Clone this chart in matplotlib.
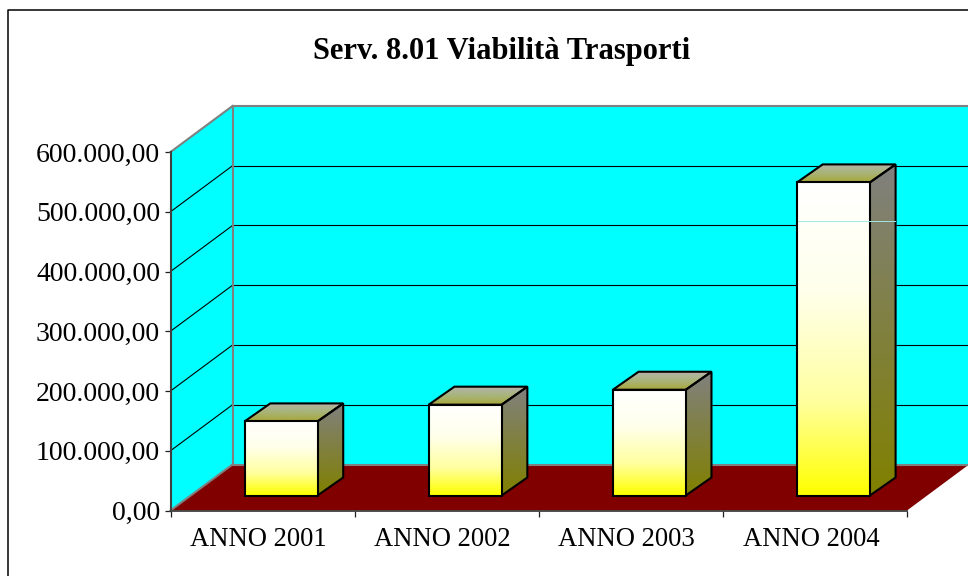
import numpy as np
import matplotlib
matplotlib.use("Agg")
import matplotlib.pyplot as plt
from matplotlib.patches import Polygon
from matplotlib.lines import Line2D
from matplotlib.transforms import Affine2D, IdentityTransform
from matplotlib.colors import LinearSegmentedColormap

categories = ["ANNO 2001", "ANNO 2002", "ANNO 2003", "ANNO 2004"]
values = [124000, 152000, 177000, 524000]
y_ticks = [0, 100000, 200000, 300000, 400000, 500000, 600000]
y_labels = ["0,00", "100.000,00", "200.000,00", "300.000,00", "400.000,00", "500.000,00", "600.000,00"]
title = "Serv. 8.01 Viabilità Trasporti"
streak_value = 459600    # faint line visible across the last bar

W, H = 968, 576
plt.rcParams["font.family"] = ["Liberation Serif", "DejaVu Serif"]
fig = plt.figure(figsize=(W / 100, H / 100), dpi=100, facecolor="white")
L, R, T, B = 170.5, 907.0, 152.0, 510.5
ax = fig.add_axes([L / W, 1 - B / H, (R - L) / W, (B - T) / H])
ax.set_xlim(0, 4)
ax.set_ylim(0, 600000)
ax.patch.set_visible(False)
for s in ax.spines.values():
    s.set_visible(False)

DX, DY = 62.0, 46.0      # wall depth, pixels
back = Affine2D().translate(DX, DY)
to_back = ax.transData + back
GRAY = "#808080"

# floor
ax.add_patch(Polygon(ax.transData.transform([(0, 0), (4, 0)]).tolist()
                     + to_back.transform([(4, 0), (0, 0)]).tolist(),
                     closed=True, fc="#800000", ec="none",
                     transform=IdentityTransform(), clip_on=False, zorder=1))
# side wall
ax.add_patch(Polygon(ax.transData.transform([(0, 0), (0, 600000)]).tolist()
                     + to_back.transform([(0, 600000), (0, 0)]).tolist(),
                     closed=True, fc="#00FFFF", ec="none",
                     transform=IdentityTransform(), clip_on=False, zorder=1))
# back wall
ax.add_patch(Polygon([(0, 0), (4, 0), (4, 600000), (0, 600000)], closed=True,
                     fc="#00FFFF", ec="none", transform=to_back, clip_on=False, zorder=1))
# grid lines
for v in y_ticks:
    c, w = ("black", 0.8)
    if v in (0, 600000):
        continue
    ax.plot([0, 4], [v, v], color=c, lw=w, transform=to_back, clip_on=False, zorder=2)
    p0 = ax.transData.transform((0, v))
    p1 = to_back.transform((0, v))
    ax.add_line(Line2D([p0[0], p1[0]], [p0[1], p1[1]], color=c, lw=w,
                       transform=IdentityTransform(), clip_on=False, zorder=2))
# wall edges
p = ax.transData.transform([(0, 0), (0, 600000)])
q = to_back.transform([(0, 0), (0, 600000), (4, 600000), (4, 0)])
for a, b in [(p[1], q[1]), (q[1], q[2]), (q[0], q[1]), (p[0], q[0]), (q[0], q[3])]:
    ax.add_line(Line2D([a[0], b[0]], [a[1], b[1]], color=GRAY, lw=1.5,
                       transform=IdentityTransform(), clip_on=False, zorder=2.5))

front_cmap = LinearSegmentedColormap.from_list(
    "f", [(0, "#FFFFFF"), (0.35, "#FFFFEC"), (0.7, "#FFFFA0"), (1, "#FFFF00")])
side_cmap = LinearSegmentedColormap.from_list("s", ["#808080", "#808000"])
top_cmap = LinearSegmentedColormap.from_list("t", ["#B4B4AA", "#A8B478", "#A8A838"])
grad = np.linspace(0, 1, 256).reshape(-1, 1)

BW = 0.396
FX, FY = 18.5, 15.0      # front offset of the bars
BX, BY = 25.7, 18.0      # bar depth


def face(pts, cmap, z):
    pts = np.array(pts)
    x0, x1 = pts[:, 0].min(), pts[:, 0].max()
    y0, y1 = pts[:, 1].min(), pts[:, 1].max()
    im = ax.imshow(grad, cmap=cmap, aspect="auto", extent=(x0, x1, y0, y1), origin="upper",
                   transform=IdentityTransform(), zorder=z, clip_on=True, interpolation="bilinear")
    clip = Polygon(pts, closed=True, transform=IdentityTransform())
    im.set_clip_path(clip)
    ax.add_patch(Polygon(pts, closed=True, fc="none", ec="black", lw=1.5, joinstyle="miter",
                         transform=IdentityTransform(), clip_on=False, zorder=z + 0.1))


for i, v in enumerate(values):
    xl, xr = i + 0.5 - BW / 2, i + 0.5 + BW / 2
    (ax0, ay0), (ax1, ay1) = ax.transData.transform([(xl, 0), (xr, v)])
    ax0 += FX; ax1 += FX; ay0 += FY; ay1 += FY
    face([(ax1, ay0), (ax1 + BX, ay0 + BY), (ax1 + BX, ay1 + BY), (ax1, ay1)], side_cmap, 4)
    face([(ax0, ay1), (ax1, ay1), (ax1 + BX, ay1 + BY), (ax0 + BX, ay1 + BY)], top_cmap, 4)
    face([(ax0, ay0), (ax1, ay0), (ax1, ay1), (ax0, ay1)], front_cmap, 5)
    if i == 3:
        ys = ax.transData.transform((xl, streak_value))[1] + FY
        ax.add_line(Line2D([ax0 + 1, ax1 + BX - 1], [ys, ys], color="#A0E8E0", lw=0.7,
                           transform=IdentityTransform(), clip_on=False, zorder=5.5))

ax.set_xlim(0, 4)
ax.set_ylim(0, 600000)

# axes
ax.plot([0, 0], [0, 600000], color="#404040", lw=1.5, clip_on=False, zorder=6)
ax.plot([0, 4], [0, 0], color="#404040", lw=1.3, clip_on=False, zorder=6)
ax.set_yticks(y_ticks)
ax.set_yticklabels(y_labels, fontsize=20)
ax.set_xticks(range(5))
ax.set_xticklabels([])
ax.set_xticks([0.5, 1.5, 2.5, 3.5], minor=True)
ax.set_xticklabels(categories, minor=True, fontsize=19.2)
ax.tick_params(axis="y", length=4.5, width=0.9, color="#202020", pad=3, labelcolor="black")
ax.tick_params(axis="x", which="major", length=4.5, width=0.9, color="#202020")
ax.tick_params(axis="x", which="minor", length=0, pad=12, labelcolor="black")
for lab in ax.get_xticklabels(minor=True):
    lab.set_transform(lab.get_transform() + Affine2D().translate(-4, 0))

fig.text(501.5 / W, 1 - 51 / H, title, fontsize=22, fontweight="bold",
         ha="center", va="center", color="black")

# chart frame, cut by the image at right and bottom
fig.add_artist(Line2D([8 / W, 8 / W, 1], [0, 1 - 10 / H, 1 - 10 / H],
                      color="black", lw=1.1, transform=fig.transFigure))

fig.savefig("out.png", dpi=100, facecolor="white")
